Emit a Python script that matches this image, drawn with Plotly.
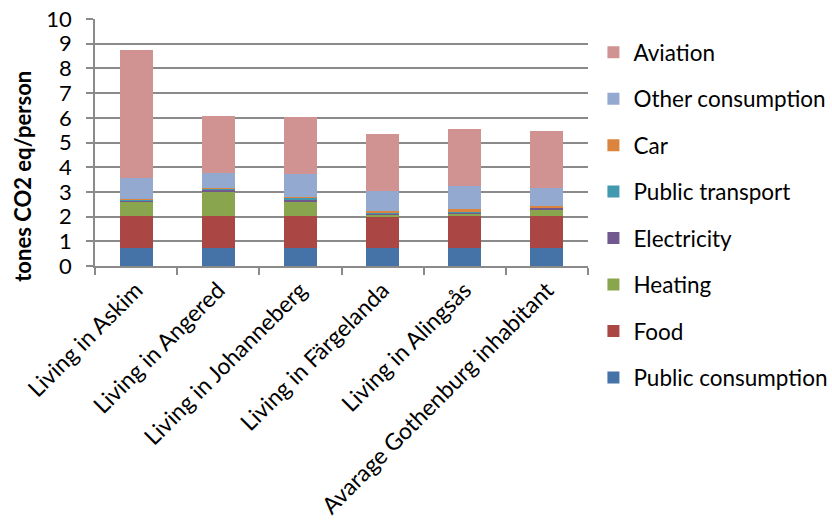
import plotly.graph_objects as go

categories = ["Living in Askim", "Living in Angered", "Living in Johanneberg",
              "Living in Färgelanda", "Living in Alingsås", "Avarage Gothenburg inhabitant"]

public_consumption = [0.72, 0.72, 0.72, 0.72, 0.72, 0.72]
food = [1.30, 1.30, 1.30, 1.30, 1.30, 1.30]
heating = [0.60, 1.00, 0.60, 0.06, 0.10, 0.25]
electricity = [0.05, 0.06, 0.04, 0.06, 0.04, 0.08]
public_transport = [0.02, 0.07, 0.12, 0.03, 0.03, 0.03]
car = [0.04, 0.02, 0.02, 0.04, 0.13, 0.05]
other_consumption = [0.85, 0.60, 0.93, 0.83, 0.93, 0.74]
aviation = [5.18, 2.32, 2.30, 2.30, 2.30, 2.30]

series = [
    ("Public consumption", public_consumption, "#4572A7"),
    ("Food", food, "#AA4643"),
    ("Heating", heating, "#89A54E"),
    ("Electricity", electricity, "#71588F"),
    ("Public transport", public_transport, "#4198AF"),
    ("Car", car, "#DB843D"),
    ("Other consumption", other_consumption, "#93A9CF"),
    ("Aviation", aviation, "#D19392"),
]

FONT = "Lato"

fig = go.Figure()
n = len(series)
for i, (name, vals, col) in enumerate(series):
    fig.add_trace(go.Bar(
        x=categories, y=vals, name=name, legendgroup=name, legendrank=n - i,
        marker=dict(color=col, line=dict(width=0)),
    ))

fig.update_layout(
    width=832, height=527,
    barmode="stack", bargap=0.6,
    plot_bgcolor="white", paper_bgcolor="white",
    margin=dict(l=95, r=244, t=19, b=261, autoexpand=False),
    font=dict(family=FONT, size=22, color="black"),
    legend=dict(
        x=1.011, xanchor="left", y=0.951, yanchor="top",
        traceorder="grouped", tracegroupgap=14.2, maxheight=520,
        font=dict(family=FONT, size=22.5), itemwidth=30,
        bgcolor="rgba(0,0,0,0)",
    ),
    showlegend=True,
    annotations=[dict(
        text="<b>tones CO2 eq/person</b>", textangle=-90,
        xref="paper", yref="paper", x=(22 - 95.3) / 493.2, y=(266 - 176) / 247,
        xanchor="center", yanchor="middle", showarrow=False,
        font=dict(family=FONT, size=22, color="black"),
    )],
)
fig.update_yaxes(
    range=[0, 10], dtick=1, showgrid=True, gridcolor="#8a8a8a", gridwidth=1.5,
    showline=True, linecolor="#8a8a8a", linewidth=1.5,
    ticks="outside", ticklen=7, tickcolor="#8a8a8a", tickwidth=1.5,
    tickfont=dict(family=FONT, size=22), automargin=False, ticklabelstandoff=10,
    zeroline=False,
)
fig.update_xaxes(
    showline=True, linecolor="#8a8a8a", linewidth=1.5,
    ticks="outside", ticklen=7, tickcolor="#8a8a8a", tickwidth=1.5, tickson="boundaries",
    tickangle=-45, tickfont=dict(family=FONT, size=23), automargin=False,
)

fig.write_html("out.html")
